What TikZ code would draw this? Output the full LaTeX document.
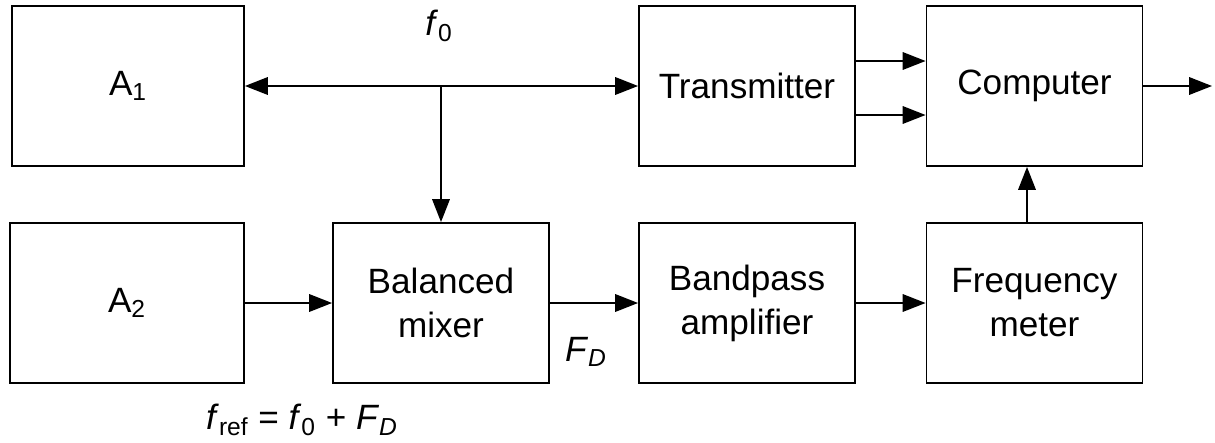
\documentclass[tikz,border=0pt]{standalone}
\usepackage{fontspec}
\setmainfont{Liberation Sans}
\usetikzlibrary{arrows.meta}

\begin{document}
\begin{tikzpicture}[x=0.02cm,y=-0.02cm,
    every node/.style={font=\fontsize{20}{25}\selectfont},
    block/.style={draw,line width=1.1pt,minimum width=4.32cm,minimum height=3.2cm,align=center,inner sep=0pt},
    sig/.style={line width=0.85pt,-{Triangle[length=13pt,width=10pt]}}]
  \useasboundingbox (0,0) rectangle (1215,443);
  % upper row
  \node[block,minimum width=4.64cm] (a1) at (128,86) {A\textsubscript{1}};
  \node[block] (tx) at (747,86) {Transmitter};
  \node[block] (comp) at (1034.5,86) {Computer};
  % lower row
  \node[block,minimum width=4.68cm] (a2) at (127,303) {A\textsubscript{2}};
  \node[block] (mix) at (441,303) {Balanced\\mixer};
  \node[block] (bpa) at (747,303) {Bandpass\\amplifier};
  \node[block] (fm) at (1034.5,303) {Frequency\\meter};
  % branch point of f_0 and free output end
  \coordinate (br) at (441,86);
  \coordinate (out) at (1212,86);
  % connectors
  \draw[sig] (br) -- (a1.east);
  \draw[sig] (br) -- (tx.west);
  \draw[sig] (br) -- (mix.north);
  \draw[sig] (tx.east |- 0,61) -- (comp.west |- 0,61);
  \draw[sig] (tx.east |- 0,115) -- (comp.west |- 0,115);
  \draw[sig] (comp.east) -- (out);
  \draw[sig] (a2.east) -- (mix.west);
  \draw[sig] (mix.east) -- (bpa.west);
  \draw[sig] (bpa.east) -- (fm.west);
  \draw[sig] (fm.north -| 1027,0) -- (comp.south -| 1027,0);
  % labels
  \node (f0) at (439,26) {\textit{f}\textsubscript{0}};
  \node (fd) at (586,352) {\textit{F}\textsubscript{\textit{D}}};
  \node (fref) at (302,420) {\textit{f}\textsubscript{ref} = \textit{f}\textsubscript{0} + \textit{F}\textsubscript{\textit{D}}};
\end{tikzpicture}
\end{document}
